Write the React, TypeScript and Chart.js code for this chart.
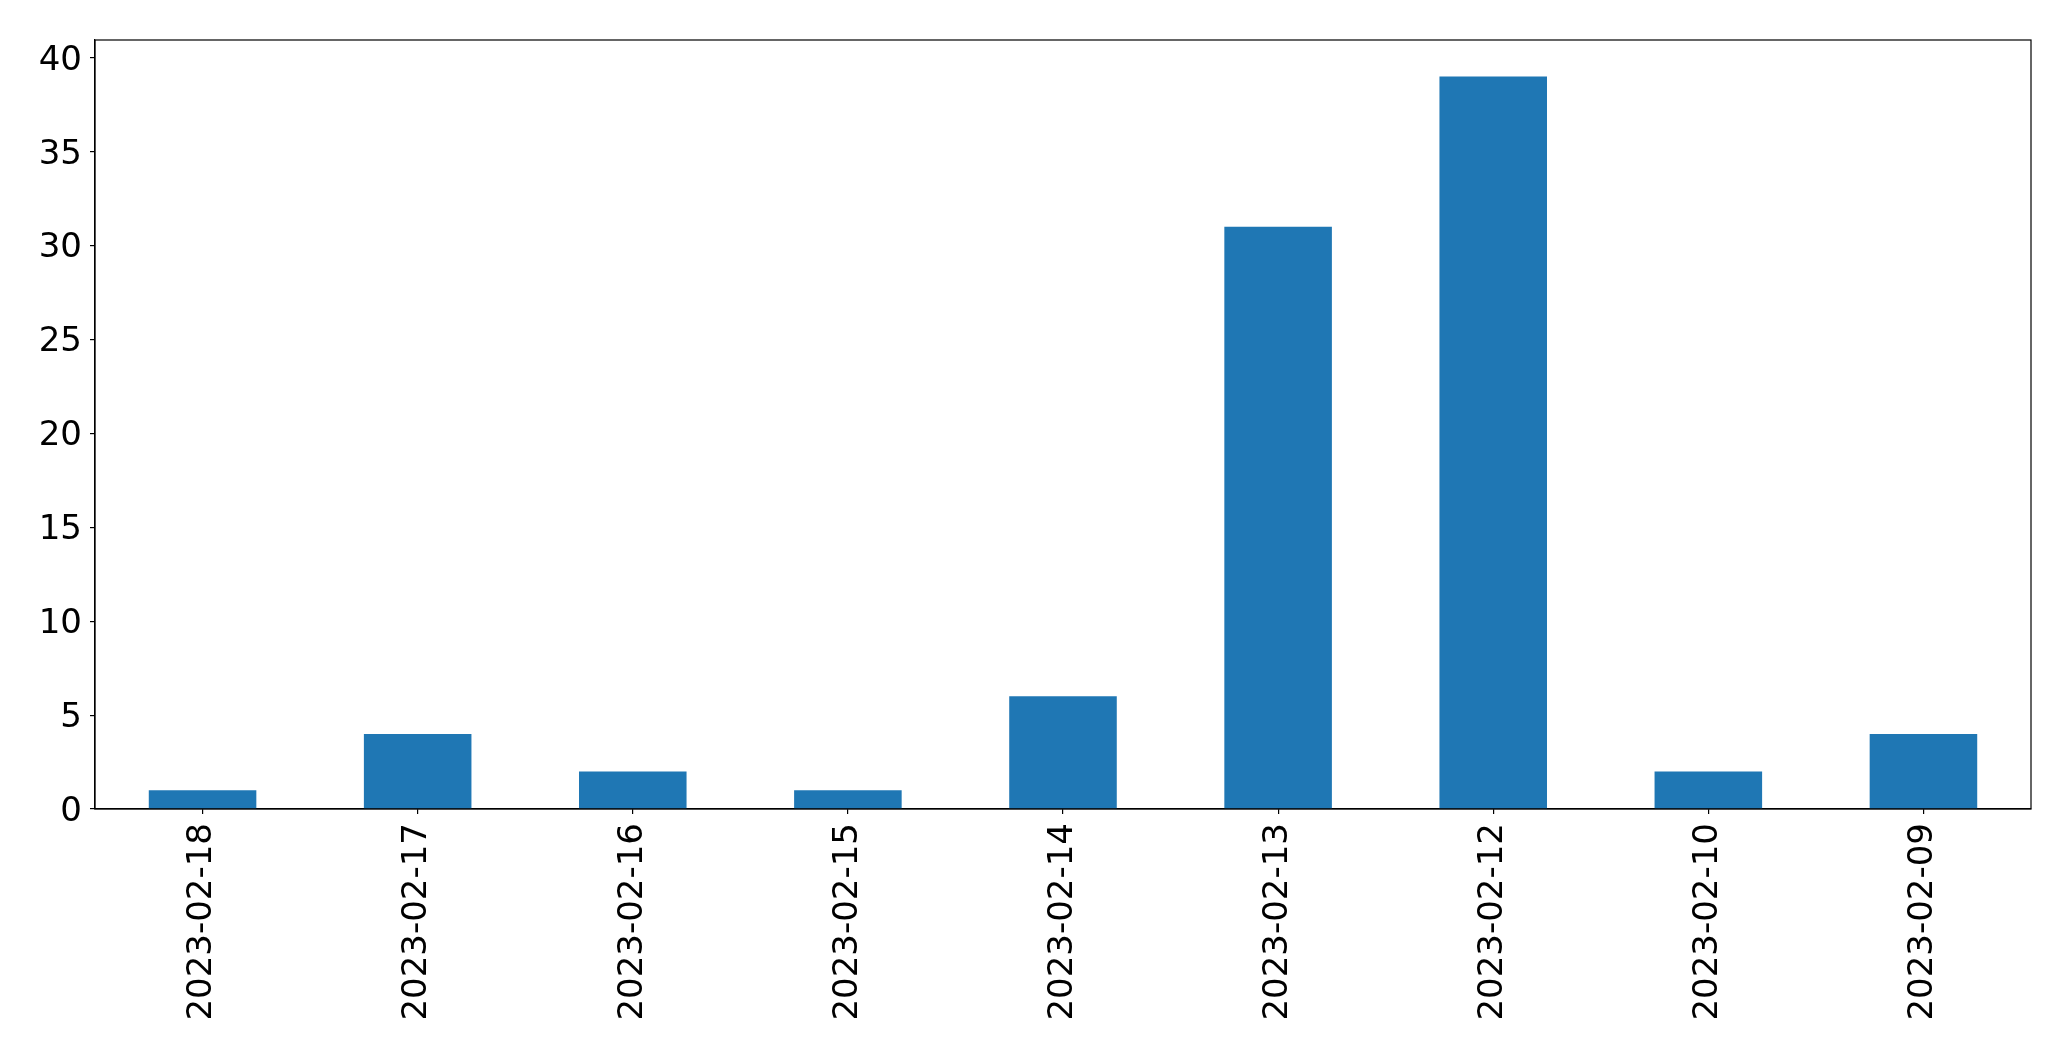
import React, { useEffect, useRef } from "react";
import { Chart, registerables } from "chart.js";

Chart.register(...registerables);

const categories = ["2023-02-18", "2023-02-17", "2023-02-16", "2023-02-15", "2023-02-14", "2023-02-13", "2023-02-12", "2023-02-10", "2023-02-09"];
const counts = [1, 4, 2, 1, 6, 31, 39, 2, 4];
const yTicks = [0, 5, 10, 15, 20, 25, 30, 35, 40];
const yMax = 40.95;

const W = 2071;
const H = 1061;

const frame = {
  id: "frame",
  afterDatasetsDraw(chart: any) {
    const { ctx, chartArea: a } = chart;
    ctx.save();
    ctx.strokeStyle = "#000";
    ctx.lineWidth = 1.2;
    ctx.strokeRect(a.left, a.top, a.right - a.left, a.bottom - a.top);
    ctx.restore();
  },
};

export default function App() {
  const ref = useRef<HTMLCanvasElement>(null);
  useEffect(() => {
    const font = { family: "DejaVu Sans", size: 34 };
    const chart = new Chart(ref.current as HTMLCanvasElement, {
      type: "bar",
      data: {
        labels: categories,
        datasets: [
          {
            data: counts,
            backgroundColor: "#1f77b4",
            barPercentage: 0.5,
            categoryPercentage: 1,
          },
        ],
      },
      options: {
        responsive: false,
        animation: false,
        devicePixelRatio: 1,
        layout: { padding: { top: 40, right: 40, left: 0, bottom: 0 } },
        plugins: { legend: { display: false }, tooltip: { enabled: false } },
        scales: {
          x: {
            afterFit: (s: any) => { s.height = 252; },
            grid: { display: true, offset: false, drawOnChartArea: false, drawTicks: true, tickLength: 5, color: "#000", lineWidth: 1.2 },
            border: { display: true, color: "#000", width: 1.2 },
            ticks: { color: "#000", font, minRotation: 90, maxRotation: 90, padding: 9, autoSkip: false },
          },
          y: {
            min: 0,
            max: yMax,
            afterFit: (s: any) => { s.width = 95; },
            afterBuildTicks: (s: any) => { s.ticks = yTicks.map((v) => ({ value: v })); },
            grid: { display: true, drawOnChartArea: false, drawTicks: true, tickLength: 5, color: "#000", lineWidth: 1.2 },
            border: { display: true, color: "#000", width: 1.2 },
            ticks: { color: "#000", font, padding: 8, labelOffset: 3 },
          },
        },
      },
      plugins: [frame],
    });
    return () => chart.destroy();
  }, []);
  return (
    <div style={{ position: "fixed", left: 0, top: 0, width: W, height: H, background: "#fff" }}>
      <canvas ref={ref} width={W} height={H} style={{ width: W, height: H }} />
    </div>
  );
}
